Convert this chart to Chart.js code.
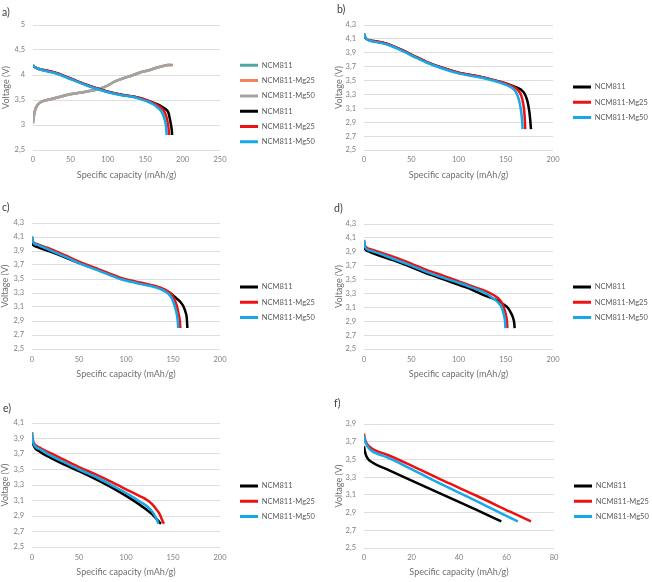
<!DOCTYPE html>
<html><head><meta charset="utf-8">
<script src="https://cdn.jsdelivr.net/npm/chart.js@4.4.1/dist/chart.umd.min.js"></script>
<style>
html,body{margin:0;padding:0;background:#fff;}
body{position:relative;width:652px;height:582px;overflow:hidden;font-family:Lato,sans-serif;}
canvas{position:absolute;}
.lbl{position:absolute;font-family:Lato,sans-serif;font-size:10.5px;line-height:10px;color:#404040;}
</style></head><body>
<canvas id="ca" width="360" height="190" style="left:0;top:0"></canvas>
<canvas id="cb" width="360" height="190" style="left:326px;top:0"></canvas>
<canvas id="cc" width="360" height="190" style="left:0;top:190px"></canvas>
<canvas id="cd" width="360" height="190" style="left:326px;top:190px"></canvas>
<canvas id="ce" width="360" height="202" style="left:0;top:380px"></canvas>
<canvas id="cf" width="360" height="202" style="left:326px;top:380px"></canvas>
<div class="lbl" style="left:2px;top:7px">a)</div>
<div class="lbl" style="left:337px;top:4px">b)</div>
<div class="lbl" style="left:2px;top:202px">c)</div>
<div class="lbl" style="left:334px;top:203px">d)</div>
<div class="lbl" style="left:3px;top:403px">e)</div>
<div class="lbl" style="left:334px;top:398px">f)</div>
<script>
// ---------- labels ----------
const seriesNames = ['NCM811', 'NCM811-Mg25', 'NCM811-Mg50'];
const xTitle = 'Specific capacity (mAh/g)';
const yTitle = 'Voltage (V)';

// ---------- tick values ----------
const xTicksA = [0, 50, 100, 150, 200, 250];
const xTicks200 = [0, 50, 100, 150, 200];
const xTicksF = [0, 20, 40, 60, 80];
const yTicksA = [2.5, 3, 3.5, 4, 4.5, 5];
const yTicks43 = [2.5, 2.7, 2.9, 3.1, 3.3, 3.5, 3.7, 3.9, 4.1, 4.3];
const yTicksE = [2.5, 2.7, 2.9, 3.1, 3.3, 3.5, 3.7, 3.9, 4.1];
const yTicksF = [2.5, 2.7, 2.9, 3.1, 3.3, 3.5, 3.7, 3.9];

// ---------- panel a: charge ----------
const aChgCap811 = [0, 1, 3, 6, 12, 22, 35, 45, 60, 72, 90, 100, 108, 120, 134, 145, 156, 166, 174, 180, 187];
const aChgV811   = [3.05, 3.17, 3.31, 3.4, 3.47, 3.51, 3.56, 3.6, 3.64, 3.67, 3.73, 3.79, 3.86, 3.93, 4.0, 4.06, 4.1, 4.15, 4.18, 4.2, 4.2];
const aChgCap25  = [0, 1, 3, 6, 12, 22, 35, 45, 60, 72, 90, 100, 108, 120, 134, 145, 156, 166, 174, 180, 186];
const aChgV25    = [3.04, 3.17, 3.31, 3.4, 3.47, 3.51, 3.56, 3.6, 3.64, 3.67, 3.73, 3.79, 3.86, 3.93, 4.0, 4.06, 4.1, 4.15, 4.18, 4.2, 4.2];
const aChgCap50  = [0, 1, 3, 6, 12, 22, 35, 45, 60, 72, 90, 100, 108, 120, 134, 145, 156, 166, 174, 180, 184];
const aChgV50    = [3.03, 3.16, 3.3, 3.4, 3.47, 3.51, 3.56, 3.6, 3.64, 3.67, 3.73, 3.79, 3.86, 3.93, 4.0, 4.06, 4.1, 4.15, 4.18, 4.2, 4.2];
// ---------- panel a: discharge ----------
const aDisCap811 = [0, 2, 8, 14, 29, 50, 72, 90, 107, 120, 134, 145, 156, 165, 172, 177, 181, 183, 184.5, 185.5, 186];
const aDisV811   = [4.19, 4.16, 4.12, 4.1, 4.05, 3.93, 3.8, 3.71, 3.64, 3.6, 3.57, 3.53, 3.47, 3.42, 3.37, 3.32, 3.25, 3.12, 3.0, 2.9, 2.8];
const aDisCap25  = [0, 2, 8, 14, 29, 50, 72, 90, 107, 120, 134, 145, 156, 165, 170, 175, 178, 180, 181.3, 182];
const aDisV25    = [4.19, 4.16, 4.12, 4.1, 4.05, 3.93, 3.8, 3.71, 3.64, 3.6, 3.57, 3.53, 3.47, 3.41, 3.36, 3.28, 3.18, 3.05, 2.92, 2.8];
const aDisCap50  = [0, 2, 8, 14, 29, 50, 72, 90, 107, 120, 134, 145, 156, 160, 165, 170, 174, 176.5, 178, 178.7];
const aDisV50    = [4.2, 4.16, 4.12, 4.09, 4.04, 3.92, 3.79, 3.7, 3.63, 3.59, 3.56, 3.51, 3.45, 3.42, 3.37, 3.3, 3.2, 3.08, 2.95, 2.8];

// ---------- panel b ----------
const bCap811 = [0, 1, 2.5, 10, 20, 30, 40, 52, 66, 83.6, 101, 119, 136.5, 150, 160, 166, 170, 173, 175, 176, 176.7];
const bV811   = [4.17, 4.13, 4.1, 4.07, 4.045, 4.0, 3.94, 3.86, 3.77, 3.68, 3.61, 3.565, 3.51, 3.46, 3.41, 3.37, 3.31, 3.2, 3.05, 2.92, 2.8];
const bCap25  = [0, 1, 2.5, 10, 20, 30, 40, 52, 66, 83.6, 101, 119, 136.5, 150, 158, 163, 166.5, 168.7, 169.8, 170.3, 170.6];
const bV25    = [4.17, 4.13, 4.1, 4.07, 4.045, 4.0, 3.94, 3.86, 3.77, 3.68, 3.61, 3.565, 3.51, 3.46, 3.41, 3.36, 3.28, 3.15, 3.02, 2.9, 2.8];
const bCap50  = [0, 1, 2.5, 10, 20, 30, 40, 52, 66, 83.6, 101, 119, 136.5, 150, 156, 160.5, 164, 166, 167, 167.5, 167.8];
const bV50    = [4.18, 4.13, 4.1, 4.06, 4.035, 3.99, 3.93, 3.85, 3.76, 3.67, 3.6, 3.555, 3.5, 3.44, 3.4, 3.34, 3.22, 3.08, 2.97, 2.88, 2.8];

// ---------- panel c ----------
const cCap811 = [0, 1, 5.3, 19.5, 35, 49.6, 72.6, 93.8, 115, 136, 147, 154, 158, 161, 163.5, 164.6, 165.3];
const cV811   = [4.03, 3.99, 3.96, 3.89, 3.81, 3.73, 3.62, 3.51, 3.44, 3.37, 3.3, 3.22, 3.17, 3.11, 3.02, 2.95, 2.8];
const cCap25  = [0, 1, 5, 19.5, 35, 49.6, 72.6, 93.8, 115, 136, 147, 151, 154, 156, 157.3, 157.8];
const cV25    = [4.1, 4.04, 4.0, 3.93, 3.84, 3.75, 3.63, 3.52, 3.45, 3.38, 3.3, 3.22, 3.12, 3.0, 2.9, 2.8];
const cCap50  = [0, 1, 5, 19.5, 35, 49.6, 72.6, 93.8, 115, 136, 145, 149, 152, 154, 155, 155.5];
const cV50    = [4.11, 4.03, 3.99, 3.91, 3.82, 3.73, 3.61, 3.5, 3.43, 3.36, 3.29, 3.22, 3.1, 3.0, 2.9, 2.8];

// ---------- panel d ----------
const dCap811 = [0, 1, 6, 30.7, 50, 66, 85, 101, 115, 126, 136, 143.6, 149, 152.4, 155.5, 157.7, 159, 159.4];
const dV811   = [3.98, 3.94, 3.9, 3.78, 3.68, 3.59, 3.5, 3.42, 3.35, 3.28, 3.23, 3.18, 3.13, 3.09, 3.02, 2.95, 2.87, 2.8];
const dCap25  = [0, 1, 6, 30.7, 50, 66, 85, 101, 115, 129.5, 138, 143.6, 146.5, 148.8, 150.5, 151.4, 151.7];
const dV25    = [4.07, 3.99, 3.94, 3.83, 3.73, 3.64, 3.55, 3.47, 3.4, 3.33, 3.27, 3.21, 3.15, 3.06, 2.97, 2.88, 2.8];
const dCap50  = [0, 1, 6, 30.7, 50, 66, 85, 101, 115, 128, 136.5, 142, 145.5, 147.5, 148.8, 149.4, 149.6];
const dV50    = [4.07, 3.97, 3.92, 3.8, 3.7, 3.61, 3.52, 3.45, 3.38, 3.31, 3.23, 3.17, 3.1, 3.02, 2.94, 2.87, 2.8];

// ---------- panel e ----------
const eCap811 = [0, 0.7, 1.4, 8.5, 20, 33.3, 50, 68.8, 86, 104, 114, 122, 128, 132.6, 135.5, 137.2];
const eV811   = [3.9, 3.86, 3.82, 3.73, 3.65, 3.57, 3.48, 3.37, 3.26, 3.13, 3.05, 2.98, 2.92, 2.86, 2.82, 2.8];
const eCap25  = [0, 0.7, 1.4, 8.5, 20, 33.3, 50, 68.8, 86, 104, 114, 122, 128, 132.6, 136, 138, 139.5, 140.4];
const eV25    = [3.98, 3.9, 3.86, 3.78, 3.71, 3.63, 3.53, 3.43, 3.33, 3.22, 3.16, 3.11, 3.05, 2.98, 2.92, 2.86, 2.82, 2.8];
const eCap50  = [0, 0.7, 1.4, 8.5, 20, 33.3, 50, 68.8, 86, 104, 114, 122, 127, 130.9, 133.3, 134.4];
const eV50    = [3.98, 3.88, 3.84, 3.76, 3.68, 3.6, 3.5, 3.4, 3.29, 3.17, 3.09, 3.03, 2.97, 2.9, 2.84, 2.8];

// ---------- panel f ----------
const fCap811 = [0, 0.3, 1.1, 3.9, 9.5, 19.4, 33.4, 47.4, 57.8];
const fV811   = [3.65, 3.6, 3.53, 3.46, 3.39, 3.27, 3.1, 2.93, 2.8];
const fCap25  = [0, 0.3, 1.4, 3, 5, 10, 20, 33.4, 47.4, 61.5, 70.3];
const fV25    = [3.79, 3.74, 3.67, 3.63, 3.6, 3.55, 3.43, 3.26, 3.09, 2.91, 2.8];
const fCap50  = [0, 0.3, 1.4, 3, 5, 10, 20, 33.4, 47.4, 59.3, 64.8];
const fV50    = [3.77, 3.72, 3.65, 3.6, 3.57, 3.52, 3.39, 3.21, 3.03, 2.87, 2.8];

// ---------- colours ----------
const cTeal = '#4fa9a3', cOrange = '#f4845f', cGray = '#a3a3a3';
const cBlack = '#000000', cRed = '#ee1111', cBlue = '#18a8e8';

function series(cap, v, label, color) {
  return {
    label, data: cap.map((c, i) => ({x: c, y: v[i]})),
    borderColor: color, backgroundColor: color, borderWidth: 2.5,
    pointRadius: 0, fill: false, cubicInterpolationMode: 'monotone', borderJoinStyle: 'round'
  };
}
function trio(c1, v1, c2, v2, c3, v3) {
  return [series(c1, v1, seriesNames[0], cBlack), series(c2, v2, seriesNames[1], cRed), series(c3, v3, seriesNames[2], cBlue)];
}

const panels = [
  {id: 'ca', h: 190, L: 33, R: 220, T: 25, B: 150, xPad: 5.5, xH: 30, yT: 1, leg: 65.3,
   xMax: 250, yMin: 2.5, yMax: 5, xt: xTicksA, yt: yTicksA,
   ds: [series(aChgCap811, aChgV811, seriesNames[0], cTeal), series(aChgCap25, aChgV25, seriesNames[1], cOrange),
        series(aChgCap50, aChgV50, seriesNames[2], cGray)].concat(trio(aDisCap811, aDisV811, aDisCap25, aDisV25, aDisCap50, aDisV50))},
  {id: 'cb', h: 190, L: 38, R: 227, T: 25, B: 150, xPad: 5.5, xH: 30, yT: 8, leg: 87,
   xMax: 200, yMin: 2.5, yMax: 4.3, xt: xTicks200, yt: yTicks43, ds: trio(bCap811, bV811, bCap25, bV25, bCap50, bV50)},
  {id: 'cc', h: 190, L: 32, R: 220, T: 33, B: 159, xPad: 6.5, xH: 30, yT: 0, leg: 97,
   xMax: 200, yMin: 2.5, yMax: 4.3, xt: xTicks200, yt: yTicks43, ds: trio(cCap811, cV811, cCap25, cV25, cCap50, cV50)},
  {id: 'cd', h: 190, L: 38, R: 227, T: 34, B: 159, xPad: 6.5, xH: 30, yT: 8, leg: 97,
   xMax: 200, yMin: 2.5, yMax: 4.3, xt: xTicks200, yt: yTicks43, ds: trio(dCap811, dV811, dCap25, dV25, dCap50, dV50)},
  {id: 'ce', h: 202, L: 32, R: 220, T: 43, B: 167, xPad: 6.5, xH: 30.5, yT: 0, leg: 106,
   xMax: 200, yMin: 2.5, yMax: 4.1, xt: xTicks200, yt: yTicksE, ds: trio(eCap811, eV811, eCap25, eV25, eCap50, eV50)},
  {id: 'cf', h: 202, L: 38, R: 228, T: 44, B: 168, xPad: 5.5, xH: 29.5, yT: 8, leg: 106,
   xMax: 80, yMin: 2.5, yMax: 3.9, xt: xTicksF, yt: yTicksF, ds: trio(fCap811, fV811, fCap25, fV25, fCap50, fV50)}
];

Chart.defaults.font.family = 'Lato, sans-serif';
const tickFont = {size: 7.5};
const titleFont = {size: 9};
const legFont = 7.5, legPad = 7.8;
const fmt = v => String(+(+v).toFixed(1)).replace('.', ',');

function build(p, padRight) {
  const n = p.ds.length;
  p.ds.forEach((d, i) => { d.order = n - i; });
  const titleH = p.leg - p.T - legPad - legFont / 2;
  return new Chart(document.getElementById(p.id), {
    type: 'line',
    data: {datasets: p.ds},
    options: {
      responsive: false, animation: false, events: [],
      layout: {padding: {left: 0, top: p.T, right: padRight, bottom: p.h - p.B - p.xH}},
      scales: {
        x: {type: 'linear', min: 0, max: p.xMax,
            afterBuildTicks: s => { s.ticks = p.xt.map(v => ({value: v})); },
            afterFit: s => { s.height = p.xH; },
            grid: {display: false, drawTicks: false}, border: {display: false},
            ticks: {font: tickFont, color: '#7f7f7f', padding: p.xPad, maxRotation: 0, autoSkip: false},
            title: {display: true, text: xTitle, font: titleFont, color: '#6f6f6f', padding: 0}},
        y: {type: 'linear', min: p.yMin, max: p.yMax,
            afterBuildTicks: s => { s.ticks = p.yt.map(v => ({value: v})); },
            afterFit: s => { s.width = p.L; },
            grid: {color: '#dedede', lineWidth: 1, drawTicks: false}, border: {display: false},
            ticks: {font: tickFont, color: '#7f7f7f', padding: 8, autoSkip: false, callback: v => fmt(v)},
            title: {display: true, text: yTitle, font: titleFont, color: '#6f6f6f', padding: {top: p.yT, bottom: 0}}},
        yr: {type: 'linear', position: 'right', display: true,
             afterFit: s => { s.width = 20 - legPad; },
             grid: {display: false, drawTicks: false}, border: {display: false}, ticks: {display: false}}
      },
      plugins: {
        tooltip: {enabled: false},
        title: {display: false},
        legend: {
          position: 'right', align: 'start', fullSize: true, maxWidth: 200, maxHeight: 400,
          title: {display: true, text: '', font: {size: 1, lineHeight: 1}, padding: {top: titleH - 1, bottom: 0}},
          labels: {
            boxWidth: 18, boxHeight: 3, padding: legPad, color: '#595959', font: {size: legFont},
            sort: (a, b) => a.datasetIndex - b.datasetIndex,
            generateLabels: chart => Chart.defaults.plugins.legend.labels.generateLabels(chart).map(l => Object.assign(l, {lineWidth: 0}))
          }
        }
      }
    }
  });
}

panels.forEach(p => {
  let pad = 0;
  let ch = build(p, pad);
  for (let k = 0; k < 6; k++) {
    const corr = ch.chartArea.right - p.R;
    if (Math.abs(corr) < 0.25) break;
    pad = Math.max(0, pad + corr);
    ch.destroy();
    ch = build(p, pad);
  }
});
</script>
</body></html>
